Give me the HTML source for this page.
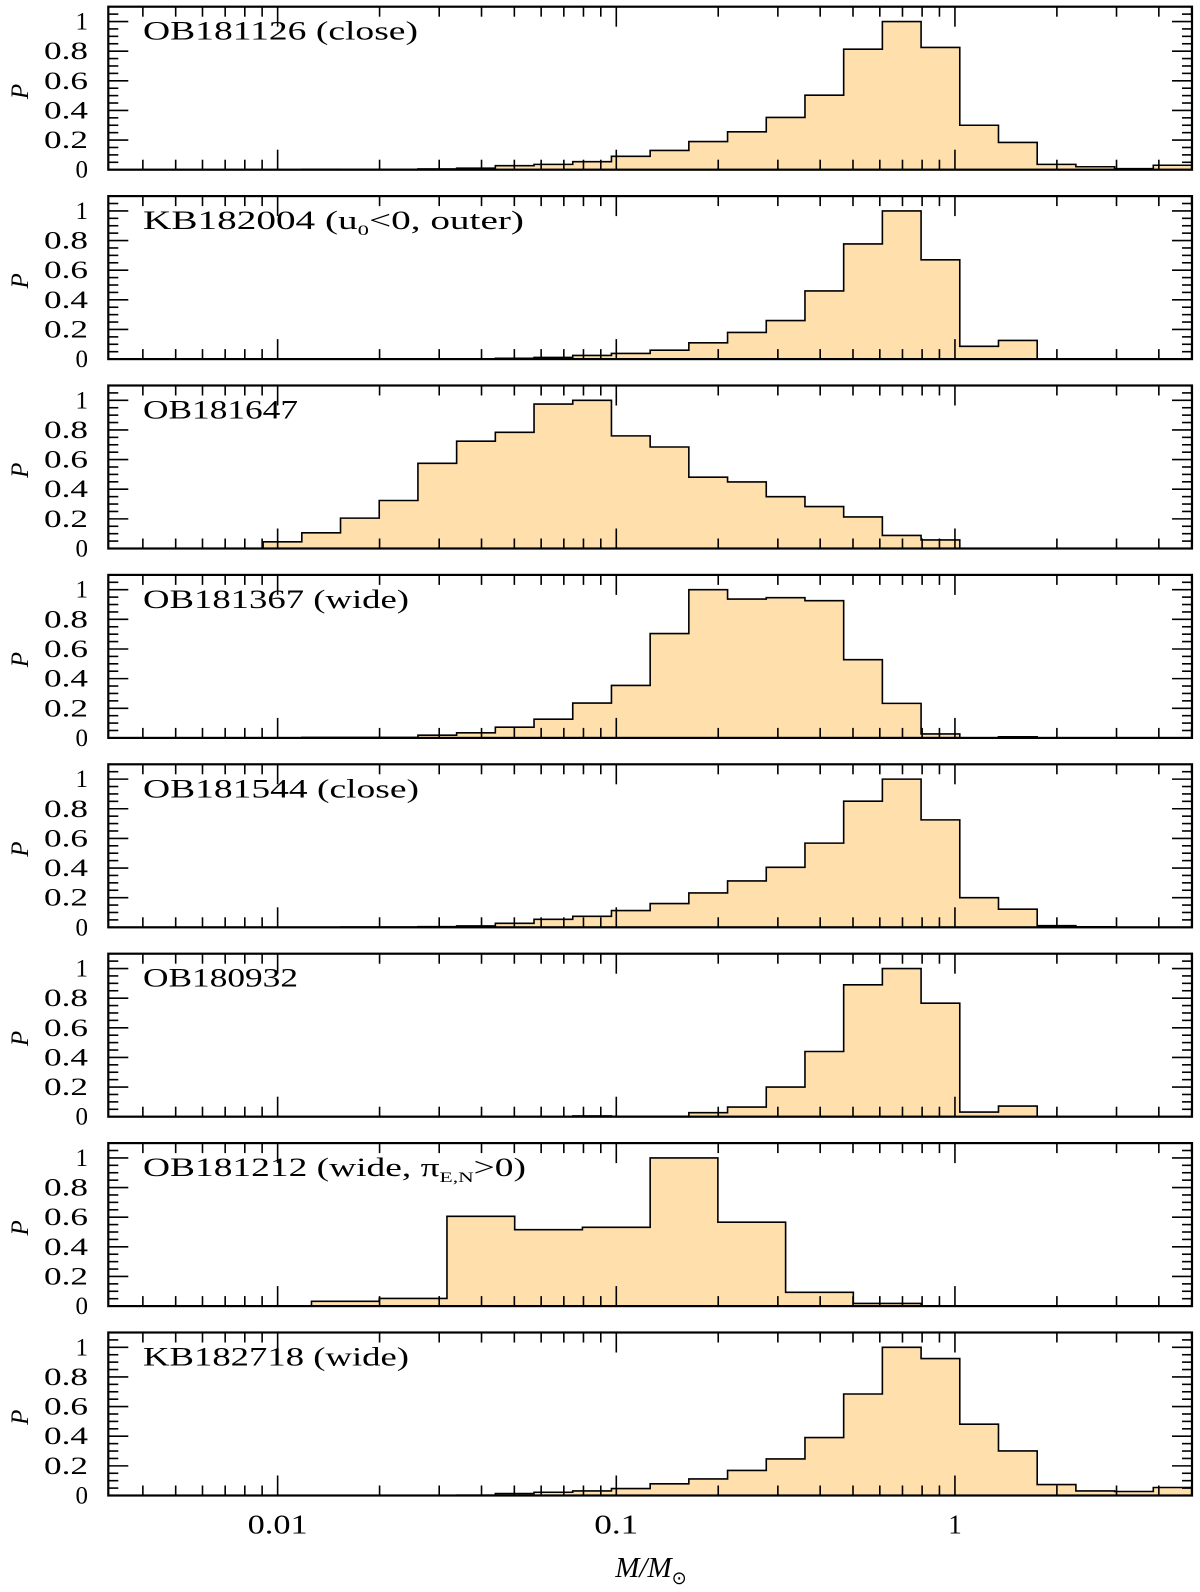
<!DOCTYPE html>
<html><head><meta charset="utf-8"><style>
html,body{margin:0;padding:0;background:#fff;}
svg{display:block;font-family:"Liberation Serif",serif;}
</style></head><body>
<svg id="chart" width="1200" height="1592" viewBox="0 0 1200 1592" xmlns="http://www.w3.org/2000/svg"></svg>
<script>
const panelLabels = ["OB181126 (close)","KB182004 (u0<0, outer)","OB181647","OB181367 (wide)","OB181544 (close)","OB180932","OB181212 (wide, πE,N>0)","KB182718 (wide)"];
const binStart = [-2.5,-2.5,-2.5,-2.5,-2.5,-2.5,-1.9,-2.5];
const binWidth = [3.2/28,3.2/28,3.2/28,3.2/28,3.2/28,3.2/28,0.2,3.2/28];
const p1 = [0,0,0,0,0,0.003,0.002,0.002,0.005,0.01,0.027,0.036,0.054,0.09,0.13,0.19,0.256,0.353,0.503,0.813,1.0,0.825,0.30,0.184,0.036,0.02,0.007,0.03];
const p2 = [0,0,0,0,0,0,0,0,0,0,0.005,0.011,0.025,0.038,0.06,0.11,0.18,0.26,0.46,0.777,1.0,0.67,0.086,0.126,0,0,0,0];
const p3 = [0,0,0,0,0.045,0.106,0.205,0.324,0.575,0.724,0.784,0.975,1.0,0.76,0.685,0.481,0.449,0.35,0.283,0.213,0.088,0.058,0,0,0,0,0,0];
const p4 = [0,0,0,0,0,0.003,0.003,0.003,0.018,0.034,0.072,0.126,0.235,0.354,0.704,1.0,0.937,0.946,0.926,0.528,0.233,0.027,0,0.007,0,0,0,0];
const p5 = [0,0,0,0,0,0,0.002,0.002,0.004,0.009,0.027,0.054,0.074,0.113,0.16,0.232,0.313,0.405,0.568,0.851,1.0,0.725,0.2,0.122,0.011,0.003,0,0];
const p6 = [0,0,0,0,0,0,0,0,0,0,0,0,0.005,0.003,0.003,0.027,0.065,0.2,0.44,0.89,1.0,0.766,0.031,0.072,0,0,0,0];
const p7 = [0.032,0.052,0.606,0.516,0.532,1.0,0.566,0.093,0.018];
const p8 = [0,0,0,0,0,0,0,0,0,0.002,0.013,0.022,0.031,0.047,0.079,0.112,0.169,0.247,0.391,0.685,1.0,0.924,0.481,0.301,0.074,0.031,0.027,0.054];
const panelValues = [p1,p2,p3,p4,p5,p6,p7,p8];
const yTickLabels = ["0","0.2","0.4","0.6","0.8","1"];
const xTickLabels = ["0.01","0.1","1"];

const NS="http://www.w3.org/2000/svg";
const svg=document.getElementById('chart');
const X0=108.3, X1=1192, LMIN=-2.5, LMAX=0.7, YMAX=1.1, PH=163, PSTEP=189.4, PTOP0=6.7;
const labelLen=[275,381,155,266,276,155,383,266];
function xl(l){return X0+(l-LMIN)/(LMAX-LMIN)*(X1-X0);}
function mk(tag,attrs,parent){const e=document.createElementNS(NS,tag);for(const k in attrs)e.setAttribute(k,attrs[k]);(parent||svg).appendChild(e);return e;}

const minorL=[];
for(let d=-3;d<=0;d++)for(let m=1;m<=9;m++){const l=d+Math.log10(m);if(l>LMIN&&l<LMAX)minorL.push({l:l,major:m===1});}

panelValues.forEach((vals,i)=>{
  const top=PTOP0+i*PSTEP, bot=top+PH;
  const yv=v=>bot-v/YMAX*PH;
  const g=mk('g',{});
  
  
  let d='M'+xl(binStart[i])+','+bot;
  vals.forEach((v,k)=>{
    const a=Math.max(LMIN,binStart[i]+k*binWidth[i]), b=Math.min(LMAX,binStart[i]+(k+1)*binWidth[i]);
    d+=' L'+xl(a).toFixed(2)+','+yv(v).toFixed(2)+' L'+xl(b).toFixed(2)+','+yv(v).toFixed(2);
  });
  const lastL=Math.min(LMAX,binStart[i]+vals.length*binWidth[i]);
  const fill=mk('path',{d:d+' L'+xl(lastL)+','+bot+' Z',fill:'#FFDFAB',stroke:'#000','stroke-width':1.6,'stroke-linejoin':'miter'},g);
  
  
  minorL.forEach(t=>{
    const x=xl(t.l), len=t.major?20:10;
    mk('line',{x1:x,y1:bot,x2:x,y2:bot-len,stroke:'#000','stroke-width':1.6},g);
    mk('line',{x1:x,y1:top,x2:x,y2:top+len,stroke:'#000','stroke-width':1.6},g);
  });
  for(let j=1;j<22;j++){
    const v=j*0.05; const y=yv(v); const len=(j%4===0)?20:10;
    mk('line',{x1:X0,y1:y,x2:X0+len,y2:y,stroke:'#000','stroke-width':1.6},g);
    mk('line',{x1:X1,y1:y,x2:X1-len,y2:y,stroke:'#000','stroke-width':1.6},g);
  }
  const fr=mk('rect',{x:X0,y:top,width:X1-X0,height:PH,fill:'none',stroke:'#000','stroke-width':2.2},g);
  
  
  yTickLabels.forEach((s,j)=>{
    const t=mk('text',{x:88,y:yv(j*0.2)+8,'text-anchor':'end','font-size':25},g);
    if(s.length>1){t.setAttribute('textLength',44);t.setAttribute('lengthAdjust','spacingAndGlyphs');}
    t.textContent=s;
    
    
  });
  const p=mk('text',{x:0,y:0,'font-size':25,'font-style':'italic','text-anchor':'middle',transform:'translate(28,'+(top+PH*0.52)+') rotate(-90)'},g);
  p.textContent='P';
  
  
  const lab=mk('text',{x:143,y:top+33,'font-size':26,textLength:labelLen[i],lengthAdjust:'spacingAndGlyphs'},g);
  
  
  const s=panelLabels[i];
  if(i===1){
    lab.innerHTML='KB182004 (u<tspan font-size="15" dy="6">0</tspan><tspan dy="-6">&lt;0, outer)</tspan>';
  } else if(i===6){
    lab.innerHTML='OB181212 (wide, π<tspan font-size="15" dy="6">E,N</tspan><tspan dy="-6">&gt;0)</tspan>';
  } else lab.textContent=s;
});
const lastBot=PTOP0+7*PSTEP+PH;
const xLabLen={"0.01":60,"0.1":44};
xTickLabels.forEach(s=>{
  const t=mk('text',{x:xl(Math.log10(parseFloat(s))),y:lastBot+38,'text-anchor':'middle','font-size':27});
  if(xLabLen[s]){t.setAttribute('textLength',xLabLen[s]);t.setAttribute('lengthAdjust','spacingAndGlyphs');}
  t.textContent=s;
  
  
});
const xt=mk('text',{x:651,y:1577,'text-anchor':'middle','font-size':29,'font-style':'italic'});
xt.innerHTML='M/M<tspan font-size="18" dy="7" font-style="normal">⊙</tspan>';


</script>
</body></html>
